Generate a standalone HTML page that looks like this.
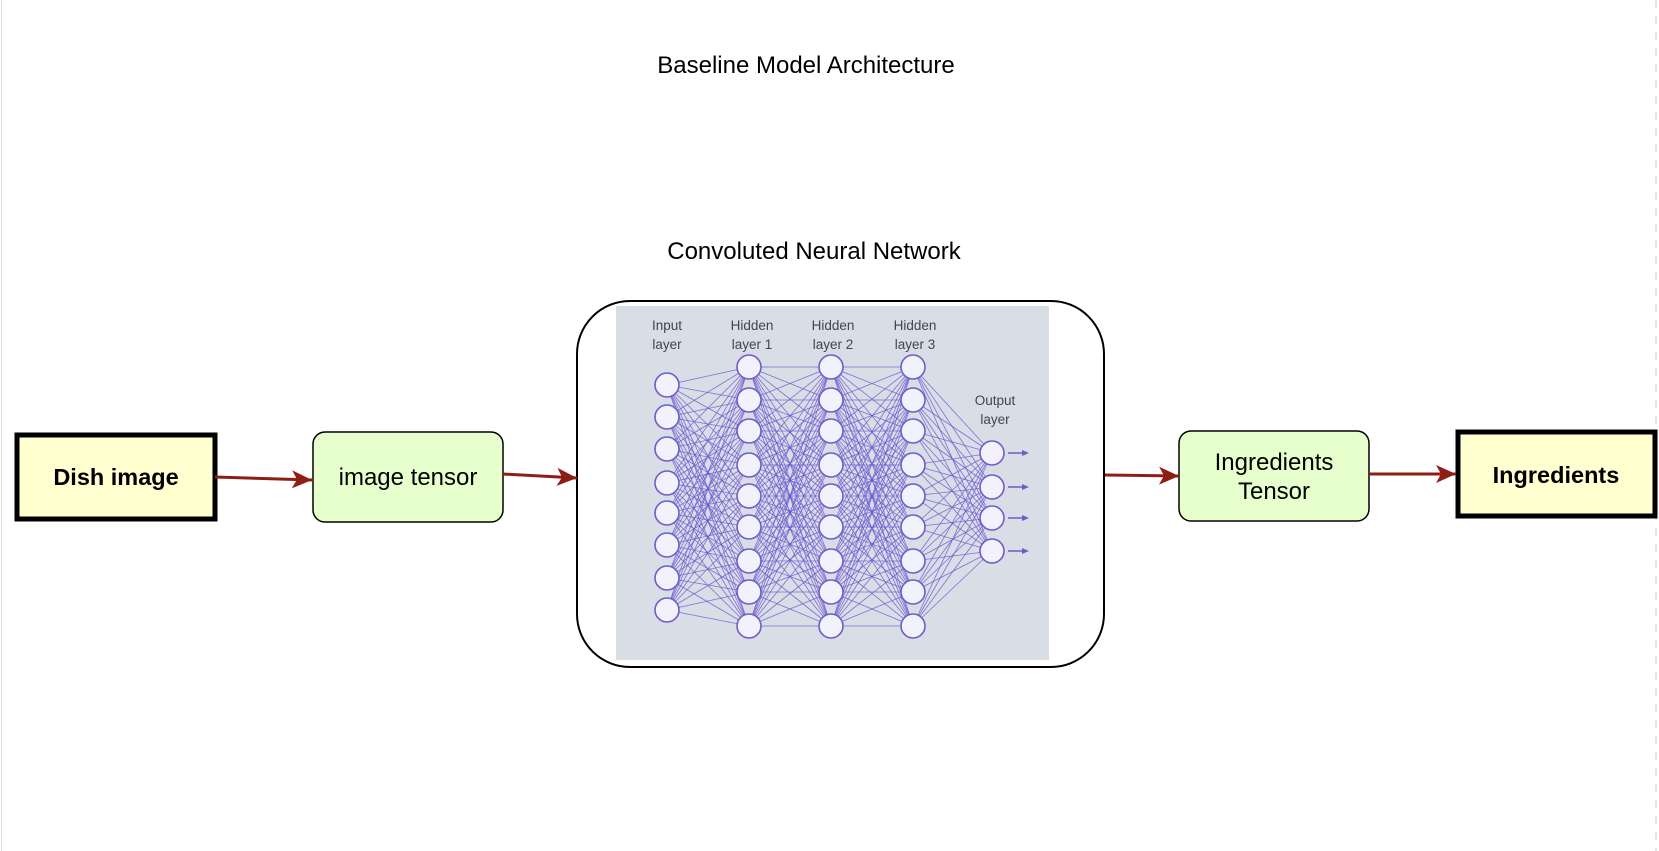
<!DOCTYPE html>
<html><head><meta charset="utf-8"><style>
html,body{margin:0;padding:0;background:#fff;}
body{width:1659px;height:851px;overflow:hidden;position:relative;font-family:"Liberation Sans",Arial,sans-serif;}
</style></head><body>
<svg id="s" width="1659" height="851" viewBox="0 0 1659 851" xmlns="http://www.w3.org/2000/svg" style="position:absolute;left:0;top:0">
<defs>
<marker id="ah" markerWidth="22" markerHeight="22" refX="20" refY="11" orient="auto" markerUnits="userSpaceOnUse"><path d="M0,2 L20,11 L0,20 L5,11 Z" fill="#8f1d16"/></marker>
</defs>
<line x1="1.5" y1="0" x2="1.5" y2="851" stroke="#ddd" stroke-width="1"/>
<line x1="1656" y1="0" x2="1656" y2="851" stroke="#ccc" stroke-width="1" stroke-dasharray="8,8"/>
<text x="806" y="73" font-size="24" text-anchor="middle" fill="#000">Baseline Model Architecture</text>
<text x="814" y="259" font-size="24" text-anchor="middle" fill="#000">Convoluted Neural Network</text>

<rect x="17" y="435" width="198" height="84" fill="#ffffd0" stroke="#000" stroke-width="5"/>
<text x="116" y="485" font-size="23.5" font-weight="bold" text-anchor="middle">Dish image</text>
<rect x="313" y="432" width="190" height="90" rx="12" fill="#e6ffcc" stroke="#000" stroke-width="1.5"/>
<text x="408" y="485" font-size="24" text-anchor="middle">image tensor</text>

<rect x="577" y="301" width="527" height="366" rx="53" fill="#fff" stroke="#000" stroke-width="2"/>
<rect x="616" y="306" width="433" height="354" fill="#d8dde6"/>
<g id="nn"></g>

<rect x="1179" y="431" width="190" height="90" rx="12" fill="#e6ffcc" stroke="#000" stroke-width="1.5"/>
<text x="1274" y="470" font-size="24" text-anchor="middle">Ingredients</text>
<text x="1274" y="499" font-size="24" text-anchor="middle">Tensor</text>
<rect x="1458" y="432" width="197" height="84" fill="#ffffd0" stroke="#000" stroke-width="5"/>
<text x="1556" y="483" font-size="23.5" font-weight="bold" text-anchor="middle">Ingredients</text>

<g stroke="#8f1d16" stroke-width="3" fill="none">
<line x1="215" y1="477" x2="312" y2="480" marker-end="url(#ah)"/>
<line x1="503" y1="474" x2="577" y2="478" marker-end="url(#ah)"/>
<line x1="1105" y1="475" x2="1179" y2="476" marker-end="url(#ah)"/>
<line x1="1369" y1="474" x2="1456" y2="474" marker-end="url(#ah)"/>
</g>
<g font-size="13.5" fill="#3a4a4a" text-anchor="middle">
<text x="667" y="330">Input</text><text x="667" y="349">layer</text>
<text x="752" y="330">Hidden</text><text x="752" y="349">layer 1</text>
<text x="833" y="330">Hidden</text><text x="833" y="349">layer 2</text>
<text x="915" y="330">Hidden</text><text x="915" y="349">layer 3</text>
<text x="995" y="405">Output</text><text x="995" y="424">layer</text>
</g>
</svg>
<script>
(function(){
var ns="http://www.w3.org/2000/svg",g=document.getElementById("nn");
var L=[
 {x:667,y:[385,417,449,483,513,545,578,610]},
 {x:749,y:[367,400,431,465,496,527,561,592,626]},
 {x:831,y:[367,400,431,465,496,527,561,592,626]},
 {x:913,y:[367,400,431,465,496,527,561,592,626]},
 {x:992,y:[453,487,518,551]}];
function el(t,a){var e=document.createElementNS(ns,t);for(var k in a)e.setAttribute(k,a[k]);g.appendChild(e);return e;}
for(var i=0;i<L.length-1;i++){
 L[i].y.forEach(function(a){L[i+1].y.forEach(function(b){
  el("line",{x1:L[i].x,y1:a,x2:L[i+1].x,y2:b,stroke:"#6a55d0","stroke-width":"0.8","stroke-opacity":"0.8"});});});
}
L.forEach(function(l){l.y.forEach(function(y){el("circle",{cx:l.x,cy:y,r:12,fill:"#f3f1fb",stroke:"#6f5cc8","stroke-width":"1.6"});});});
L[4].y.forEach(function(y){
 el("line",{x1:1008,y1:y,x2:1024,y2:y,stroke:"#6f5cc8","stroke-width":"1.5"});
 el("path",{d:"M1022,"+(y-3)+" L1029,"+y+" L1022,"+(y+3)+" Z",fill:"#6f5cc8"});
});
})();
</script>
</body></html>
